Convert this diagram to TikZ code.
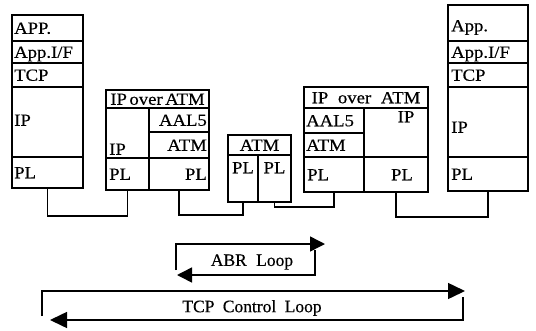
\documentclass[tikz,border=0pt]{standalone}
\usepackage{fontspec}
\setmainfont{Liberation Serif}[FakeStretch=1.1,FakeBold=0.4]
\newfontfamily\loopfont{Liberation Serif}[FakeBold=0.4]
\usetikzlibrary{arrows.meta}
\begin{document}
\begin{tikzpicture}[x=1pt,y=-1pt,
  cell/.style={draw, line width=1.4pt, inner sep=0pt, outer sep=0pt, anchor=north west},
  lbl/.style={inner sep=0pt, text height=11.5pt, text depth=0pt, font=\fontsize{17}{17}\selectfont},
  conn/.style={line width=1.5pt},
  looptxt/.style={inner sep=0pt, font=\loopfont\fontsize{17.5}{18}\selectfont},
  tipA/.style={-{Triangle[length=15pt,width=15pt]}},
  tipB/.style={-{Triangle[length=17pt,width=16pt]}}
]
\useasboundingbox (0,0) rectangle (536,330);

% ---------- left end system ----------
\node[cell, minimum width=71pt, minimum height=26pt] (ls-app) at (12,15) {};
\node[cell, minimum width=71pt, minimum height=22pt] (ls-if)  at (12,41) {};
\node[cell, minimum width=71pt, minimum height=24pt] (ls-tcp) at (12,63) {};
\node[cell, minimum width=71pt, minimum height=70pt] (ls-ip)  at (12,87) {};
\node[cell, minimum width=71pt, minimum height=31pt] (ls-pl)  at (12,157) {};
\node[lbl, anchor=west] (t-ls-app) at ([xshift=2pt]ls-app.west) {APP.};
\node[lbl, anchor=west] (t-ls-if)  at ([xshift=2pt]ls-if.west) {App.I/F};
\node[lbl, anchor=west] (t-ls-tcp) at ([xshift=2pt]ls-tcp.west) {TCP};
\node[lbl, anchor=west] (t-ls-ip)  at ([xshift=2pt,yshift=2pt]ls-ip.west) {IP};
\node[lbl, anchor=west] (t-ls-pl)  at ([xshift=2pt]ls-pl.west) {PL};

% ---------- router 1 ----------
\node[cell, minimum width=103pt, minimum height=18pt] (r1-head) at (106,90) {};
\node[cell, minimum width=43pt, minimum height=50pt] (r1-ip)  at (106,108) {};
\node[cell, minimum width=60pt, minimum height=24pt] (r1-aal) at (149,108) {};
\node[cell, minimum width=60pt, minimum height=26pt] (r1-atm) at (149,132) {};
\node[cell, minimum width=43pt, minimum height=32pt] (r1-pla) at (106,158) {};
\node[cell, minimum width=60pt, minimum height=32pt] (r1-plb) at (149,158) {};
\node[lbl] (t-r1-head) at (r1-head.center) {IP\hspace{2.5pt}over\hspace{2.5pt}ATM};
\node[lbl, anchor=west] (t-r1-ip) at ([xshift=3pt,yshift=-16pt]r1-ip.west) {IP};
\node[lbl, anchor=east] (t-r1-aal) at ([xshift=-2pt]r1-aal.east) {AAL5};
\node[lbl, anchor=east] (t-r1-atm) at ([xshift=-2pt]r1-atm.east) {ATM};
\node[lbl, anchor=west] (t-r1-pla) at ([xshift=3pt]r1-pla.west) {PL};
\node[lbl, anchor=east] (t-r1-plb) at ([xshift=-2pt]r1-plb.east) {PL};

% ---------- ATM switch ----------
\node[cell, minimum width=63pt, minimum height=20pt] (sw-head) at (228,135) {};
\node[cell, minimum width=30pt, minimum height=47pt] (sw-pla) at (228,155) {};
\node[cell, minimum width=33pt, minimum height=47pt] (sw-plb) at (258,155) {};
\node[lbl] (t-sw-head) at (sw-head.center) {ATM};
\node[lbl] (t-sw-pla) at ([yshift=11pt]sw-pla.center) {PL};
\node[lbl] (t-sw-plb) at ([yshift=11pt]sw-plb.center) {PL};

% ---------- router 2 ----------
\node[cell, minimum width=124pt, minimum height=21pt] (r2-head) at (304,87) {};
\node[cell, minimum width=60pt, minimum height=25pt] (r2-aal) at (304,108) {};
\node[cell, minimum width=60pt, minimum height=24pt] (r2-atm) at (304,133) {};
\node[cell, minimum width=64pt, minimum height=49pt] (r2-ip)  at (364,108) {};
\node[cell, minimum width=60pt, minimum height=35pt] (r2-pla) at (304,157) {};
\node[cell, minimum width=64pt, minimum height=35pt] (r2-plb) at (364,157) {};
\node[lbl] (t-r2-head) at (r2-head.center) {IP\hspace{5pt} over\hspace{5pt} ATM};
\node[lbl, anchor=west] (t-r2-aal) at ([xshift=2pt]r2-aal.west) {AAL5};
\node[lbl, anchor=west] (t-r2-atm) at ([xshift=2pt]r2-atm.west) {ATM};
\node[lbl] (t-r2-ip) at ([xshift=10pt,yshift=16pt]r2-ip.center) {IP};
\node[lbl, anchor=west] (t-r2-pla) at ([xshift=3pt]r2-pla.west) {PL};
\node[lbl] (t-r2-plb) at ([xshift=6pt]r2-plb.center) {PL};

% ---------- right end system ----------
\node[cell, minimum width=80pt, minimum height=36pt] (rs-app) at (448,5) {};
\node[cell, minimum width=80pt, minimum height=22pt] (rs-if)  at (448,41) {};
\node[cell, minimum width=80pt, minimum height=24pt] (rs-tcp) at (448,63) {};
\node[cell, minimum width=80pt, minimum height=70pt] (rs-ip)  at (448,87) {};
\node[cell, minimum width=80pt, minimum height=34pt] (rs-pl)  at (448,157) {};
\node[lbl, anchor=west] (t-rs-app) at ([xshift=3pt,yshift=-2.5pt]rs-app.west) {App.};
\node[lbl, anchor=west] (t-rs-if)  at ([xshift=3pt]rs-if.west) {App.I/F};
\node[lbl, anchor=west] (t-rs-tcp) at ([xshift=3pt]rs-tcp.west) {TCP};
\node[lbl, anchor=west] (t-rs-ip)  at ([xshift=3pt,yshift=-5pt]rs-ip.west) {IP};
\node[lbl, anchor=west] (t-rs-pl)  at ([xshift=3pt]rs-pl.west) {PL};

% ---------- physical links ----------
\path (ls-pl.south) ++(0,28) coordinate (j1);
\path (r1-plb.south) ++(0,25) coordinate (j2);
\path (sw-plb.south) ++(0,5) coordinate (j3);
\path (r2-plb.south) ++(0,25) coordinate (j4);
\draw[conn] (ls-pl.south) -- (j1) -| (r1-pla.south);
\draw[conn] (r1-plb.south) -- (j2) -| (sw-pla.south);
\draw[conn] (sw-plb.south) -- (j3) -| (r2-pla.south);
\draw[conn] (r2-plb.south) -- (j4) -| (rs-pl.south);

% ---------- ABR loop ----------
\node[looptxt] (abr) at (252,262) {ABR\hspace{5pt} Loop};
\coordinate (abr-a) at (176,270);
\coordinate (abr-b) at (176,244);
\coordinate (abr-c) at (325,244);
\coordinate (abr-d) at (315,250);
\coordinate (abr-e) at (315,275);
\coordinate (abr-f) at (177,275);
\draw[conn, tipA] (abr-a) -- (abr-b) -- (abr-c);
\draw[conn, tipA] (abr-d) -- (abr-e) -- (abr-f);

% ---------- TCP control loop ----------
\node[looptxt] (tcp) at (252,308) {TCP\hspace{4pt} Control\hspace{4pt} Loop};
\coordinate (tcp-a) at (42,316);
\coordinate (tcp-b) at (42,291);
\coordinate (tcp-c) at (465,291);
\coordinate (tcp-d) at (463,297);
\coordinate (tcp-e) at (463,320);
\coordinate (tcp-f) at (50,320);
\draw[conn, tipB] (tcp-a) -- (tcp-b) -- (tcp-c);
\draw[conn, tipB] (tcp-d) -- (tcp-e) -- (tcp-f);
\end{tikzpicture}
\end{document}
